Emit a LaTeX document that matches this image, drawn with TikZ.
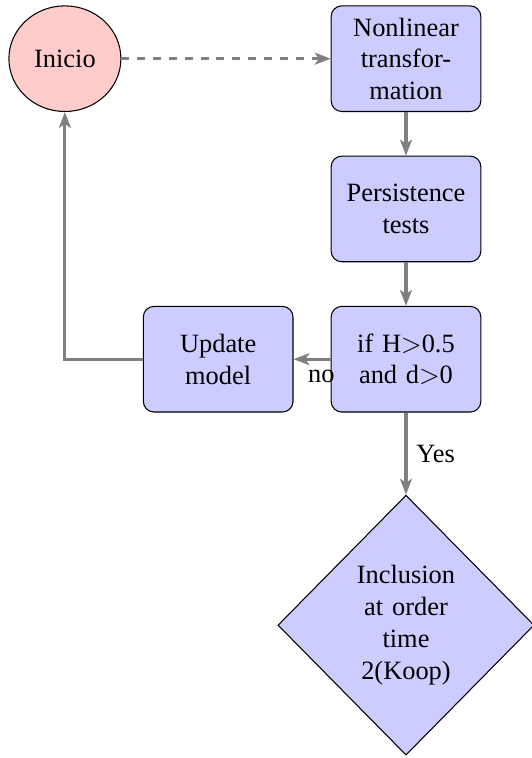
\documentclass[tikz,border=0pt]{standalone}
\usepackage{fontspec}
\setmainfont{Liberation Serif}
\usepackage{tikz}
\usetikzlibrary{shapes.geometric,arrows.meta}

\begin{document}
\begin{tikzpicture}[
  block/.style={rectangle,draw,fill=blue!20,text width=5em,align=center,rounded corners,minimum height=4em},
  cloud/.style={ellipse,draw,fill=red!20,minimum height=4em},
  decision/.style={diamond,draw,fill=blue!20,text width=4.5em,align=center,inner sep=0pt,minimum width=3.41cm,minimum height=3.46cm},
  line/.style={draw=gray,very thick,-{Stealth[length=6pt,width=4.5pt,inset=1.5pt]}}]
\useasboundingbox (-5.404,-9.308) rectangle (1.677,0.781);
\node[block] (transf) at (0,0) {Nonlinear transfor\-mation};
\node[block] (tests) at (0,-2) {Persistence tests};
\node[block] (decide) at (0,-4) {if H$>$0.5 and d$>$0};
\node[block] (update) at (-2.5,-4) {Update model};
\node[decision] (incl) at (0,-7.54) {Inclusion at order time 2(Koop)};
\node[cloud] (init) at (-4.54,0) {Inicio};
\draw[line,dashed] (init) -- (transf);
\draw[line] (transf) -- (tests);
\draw[line] (tests) -- (decide);
\draw[line] (decide) -- node[below,pos=0.25]{no} (update);
\draw[line] (decide) -- node[right]{Yes} (incl);
\draw[line] (update) -| (init);
\end{tikzpicture}
\end{document}
